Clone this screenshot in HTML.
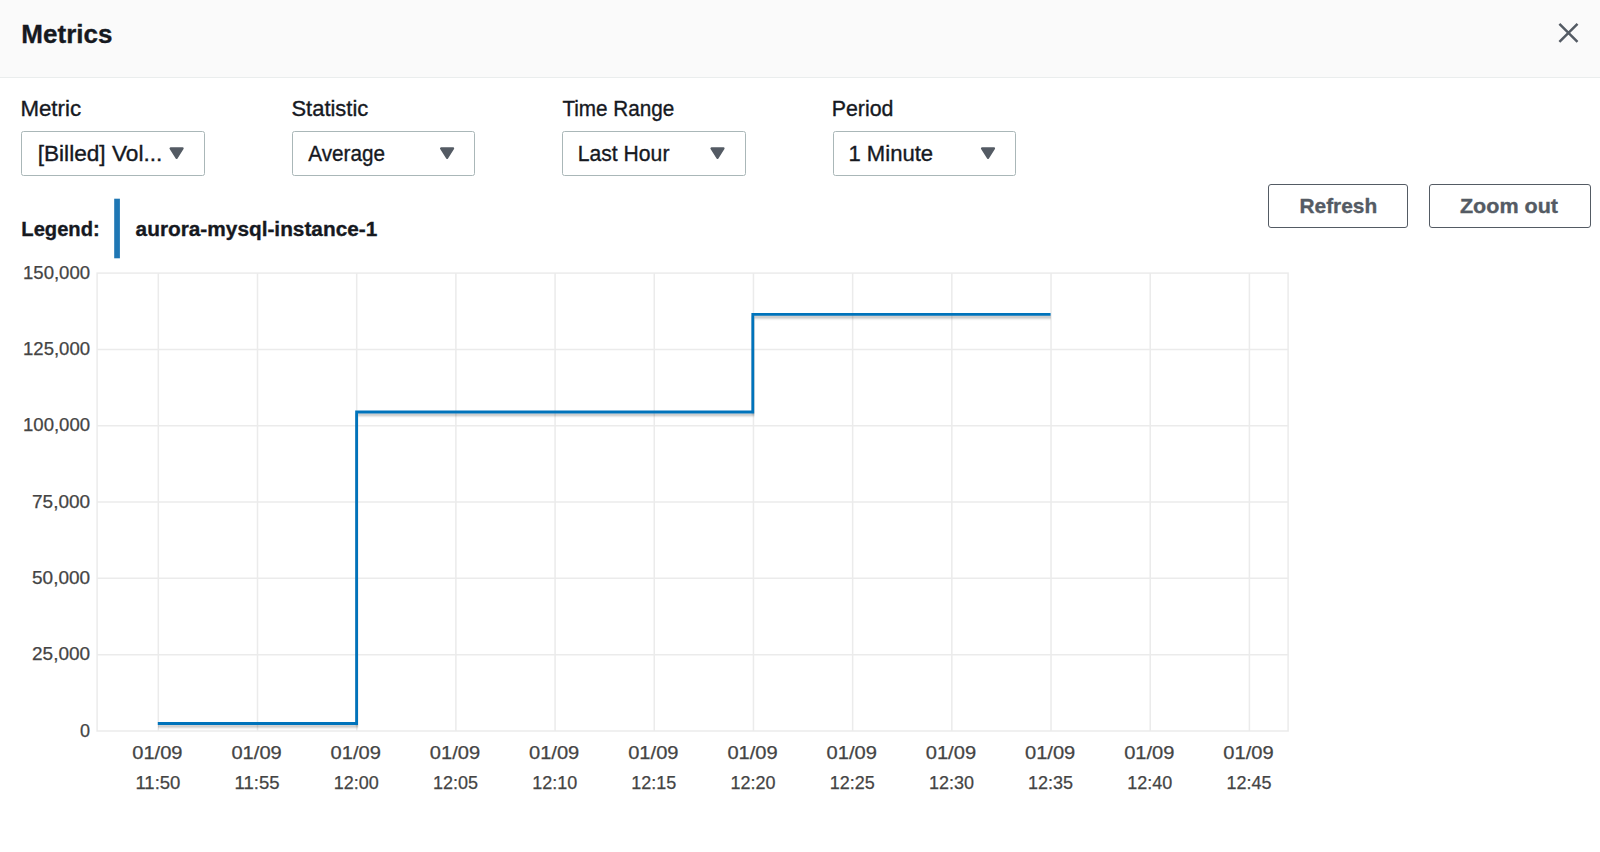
<!DOCTYPE html>
<html>
<head>
<meta charset="utf-8">
<title>Metrics</title>
<style>
html,body{margin:0;padding:0;background:#ffffff;}
body{width:1600px;height:852px;overflow:hidden;position:relative;font-family:"Liberation Sans",sans-serif;}
.header{position:absolute;left:0;top:0;width:1600px;height:77px;background:#fafafa;border-bottom:1px solid #eaeded;}
.sel{position:absolute;top:131px;width:183.5px;height:44.5px;border:1.3px solid #aab7b8;border-radius:2.5px;background:#fff;box-sizing:border-box;}
.btn{position:absolute;top:183.6px;height:44.3px;border:1.5px solid #545b64;border-radius:3px;background:#fff;box-sizing:border-box;}
svg.main{position:absolute;left:0;top:0;}
</style>
</head>
<body>
<div class="header"></div>
<div class="sel" style="left:21.1px"></div><div class="sel" style="left:291.6px"></div><div class="sel" style="left:562.0px"></div><div class="sel" style="left:832.5px"></div>
<div class="btn" style="left:1268.2px;width:140px"></div>
<div class="btn" style="left:1428.8px;width:162px"></div>
<svg class="main" width="1600" height="852" viewBox="0 0 1600 852" font-family="Liberation Sans, sans-serif">
<defs>
<filter id="sh" x="-5%" y="-10%" width="110%" height="130%">
<feGaussianBlur stdDeviation="0.3 1.1"/>
</filter>
</defs>
<text x="21.37" y="43.4" font-size="26.4" font-weight="700" fill="#16191f" stroke="#16191f" stroke-width="0.35" textLength="91.04" lengthAdjust="spacingAndGlyphs">Metrics</text>
<path d="M1559.4 23.8 L1577.5 41.9 M1577.5 23.8 L1559.4 41.9" stroke="#545b64" stroke-width="2.5" fill="none"/>
<text x="20.44" y="115.6" font-size="21.6" font-weight="400" fill="#16191f" stroke="#16191f" stroke-width="0.35" textLength="60.63" lengthAdjust="spacingAndGlyphs">Metric</text>
<text x="291.49" y="115.6" font-size="21.6" font-weight="400" fill="#16191f" stroke="#16191f" stroke-width="0.35" textLength="76.73" lengthAdjust="spacingAndGlyphs">Statistic</text>
<text x="562.4" y="115.6" font-size="21.6" font-weight="400" fill="#16191f" stroke="#16191f" stroke-width="0.35" textLength="111.89" lengthAdjust="spacingAndGlyphs">Time Range</text>
<text x="831.78" y="115.6" font-size="21.6" font-weight="400" fill="#16191f" stroke="#16191f" stroke-width="0.35" textLength="61.63" lengthAdjust="spacingAndGlyphs">Period</text>
<text x="37.7" y="160.7" font-size="21.6" font-weight="400" fill="#16191f" stroke="#16191f" stroke-width="0.35" textLength="124.63" lengthAdjust="spacingAndGlyphs">[Billed] Vol...</text>
<text x="308.3" y="160.7" font-size="21.6" font-weight="400" fill="#16191f" stroke="#16191f" stroke-width="0.35" textLength="76.7" lengthAdjust="spacingAndGlyphs">Average</text>
<text x="577.79" y="160.6" font-size="21.6" font-weight="400" fill="#16191f" stroke="#16191f" stroke-width="0.35" textLength="91.64" lengthAdjust="spacingAndGlyphs">Last Hour</text>
<text x="848.46" y="160.6" font-size="21.6" font-weight="400" fill="#16191f" stroke="#16191f" stroke-width="0.35" textLength="84.69" lengthAdjust="spacingAndGlyphs">1 Minute</text>
<g fill="#545b64" stroke="#545b64" stroke-width="2.2" stroke-linejoin="round">
<path d="M170.6 148.4 L182.6 148.4 L176.6 157.8 Z"/><path d="M441.1 148.4 L453.1 148.4 L447.1 157.8 Z"/><path d="M711.5 148.4 L723.5 148.4 L717.5 157.8 Z"/><path d="M982.0 148.4 L994.0 148.4 L988.0 157.8 Z"/>
</g>
<text x="1299.51" y="213" font-size="21.0" font-weight="700" fill="#545b64" stroke="#545b64" stroke-width="0.35" textLength="77.69" lengthAdjust="spacingAndGlyphs">Refresh</text>
<text x="1459.97" y="213" font-size="21.0" font-weight="700" fill="#545b64" stroke="#545b64" stroke-width="0.35" textLength="98.06" lengthAdjust="spacingAndGlyphs">Zoom out</text>
<text x="21.33" y="235.7" font-size="20.7" font-weight="700" fill="#16191f" stroke="#16191f" stroke-width="0.35" textLength="78.39" lengthAdjust="spacingAndGlyphs">Legend:</text>
<rect x="114.2" y="198.7" width="5.7" height="59.6" fill="#1f77b4"/>
<text x="135.61" y="236.2" font-size="21.1" font-weight="700" fill="#16191f" stroke="#16191f" stroke-width="0.35" textLength="241.69" lengthAdjust="spacingAndGlyphs">aurora-mysql-instance-1</text>
<g stroke="#ebebeb" stroke-width="1.5" fill="none">
<rect x="97.1" y="273.1" width="1191.0" height="457.9"/>
<path d="M97.1 349.42 H1288.1 M97.1 425.73 H1288.1 M97.1 502.05 H1288.1 M97.1 578.37 H1288.1 M97.1 654.68 H1288.1"/>
<path d="M158.3 273.1 V731.0 M257.49 273.1 V731.0 M356.68 273.1 V731.0 M455.87 273.1 V731.0 M555.06 273.1 V731.0 M654.25 273.1 V731.0 M753.45 273.1 V731.0 M852.64 273.1 V731.0 M951.83 273.1 V731.0 M1051.02 273.1 V731.0 M1150.21 273.1 V731.0 M1249.4 273.1 V731.0"/>
</g>
<g font-size="18.3" fill="#444444" stroke="#444444" stroke-width="0.25">
<text x="90.1" y="278.8" text-anchor="end" textLength="67.09" lengthAdjust="spacingAndGlyphs">150,000</text>
<text x="90.1" y="355.12" text-anchor="end" textLength="67.09" lengthAdjust="spacingAndGlyphs">125,000</text>
<text x="90.1" y="431.43" text-anchor="end" textLength="67.09" lengthAdjust="spacingAndGlyphs">100,000</text>
<text x="90.1" y="507.75" text-anchor="end" textLength="58.05" lengthAdjust="spacingAndGlyphs">75,000</text>
<text x="90.1" y="584.07" text-anchor="end" textLength="58.05" lengthAdjust="spacingAndGlyphs">50,000</text>
<text x="90.1" y="660.38" text-anchor="end" textLength="58.05" lengthAdjust="spacingAndGlyphs">25,000</text>
<text x="90.1" y="736.7" text-anchor="end" textLength="10.02" lengthAdjust="spacingAndGlyphs">0</text>
</g>
<g font-size="18.3" fill="#444444" stroke="#444444" stroke-width="0.25" text-anchor="middle">
<text x="157.4" y="758.9" textLength="50.3" lengthAdjust="spacingAndGlyphs">01/09</text>
<text x="157.9" y="788.9" textLength="45.0" lengthAdjust="spacingAndGlyphs">11:50</text>
<text x="256.59" y="758.9" textLength="50.3" lengthAdjust="spacingAndGlyphs">01/09</text>
<text x="257.09" y="788.9" textLength="45.0" lengthAdjust="spacingAndGlyphs">11:55</text>
<text x="355.78" y="758.9" textLength="50.3" lengthAdjust="spacingAndGlyphs">01/09</text>
<text x="356.28" y="788.9" textLength="45.0" lengthAdjust="spacingAndGlyphs">12:00</text>
<text x="454.97" y="758.9" textLength="50.3" lengthAdjust="spacingAndGlyphs">01/09</text>
<text x="455.47" y="788.9" textLength="45.0" lengthAdjust="spacingAndGlyphs">12:05</text>
<text x="554.16" y="758.9" textLength="50.3" lengthAdjust="spacingAndGlyphs">01/09</text>
<text x="554.66" y="788.9" textLength="45.0" lengthAdjust="spacingAndGlyphs">12:10</text>
<text x="653.35" y="758.9" textLength="50.3" lengthAdjust="spacingAndGlyphs">01/09</text>
<text x="653.85" y="788.9" textLength="45.0" lengthAdjust="spacingAndGlyphs">12:15</text>
<text x="752.55" y="758.9" textLength="50.3" lengthAdjust="spacingAndGlyphs">01/09</text>
<text x="753.05" y="788.9" textLength="45.0" lengthAdjust="spacingAndGlyphs">12:20</text>
<text x="851.74" y="758.9" textLength="50.3" lengthAdjust="spacingAndGlyphs">01/09</text>
<text x="852.24" y="788.9" textLength="45.0" lengthAdjust="spacingAndGlyphs">12:25</text>
<text x="950.93" y="758.9" textLength="50.3" lengthAdjust="spacingAndGlyphs">01/09</text>
<text x="951.43" y="788.9" textLength="45.0" lengthAdjust="spacingAndGlyphs">12:30</text>
<text x="1050.12" y="758.9" textLength="50.3" lengthAdjust="spacingAndGlyphs">01/09</text>
<text x="1050.62" y="788.9" textLength="45.0" lengthAdjust="spacingAndGlyphs">12:35</text>
<text x="1149.31" y="758.9" textLength="50.3" lengthAdjust="spacingAndGlyphs">01/09</text>
<text x="1149.81" y="788.9" textLength="45.0" lengthAdjust="spacingAndGlyphs">12:40</text>
<text x="1248.5" y="758.9" textLength="50.3" lengthAdjust="spacingAndGlyphs">01/09</text>
<text x="1249.0" y="788.9" textLength="45.0" lengthAdjust="spacingAndGlyphs">12:45</text>
</g>
<path d="M157.8 723.5 H356.6 V412 H752.8 V314.3 H1050.6" transform="translate(0.2,2.7)" stroke="#000" stroke-opacity="0.25" stroke-width="2.8" fill="none" filter="url(#sh)"/>
<path d="M157.8 723.5 H356.6 V412 H752.8 V314.3 H1050.6" stroke="#0073bb" stroke-width="2.8" fill="none" stroke-linejoin="miter" stroke-linecap="butt"/>
</svg>
</body>
</html>
